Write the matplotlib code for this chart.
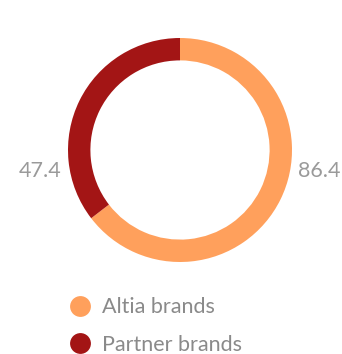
import matplotlib
matplotlib.use("Agg")
import matplotlib.pyplot as plt
from matplotlib.lines import Line2D

categories = ["Altia brands", "Partner brands"]
values = [86.4, 47.4]
colors = ["#FFA05C", "#A31515"]
label_text = ["86.4", "47.4"]

W, H = 342, 354
fig = plt.figure(figsize=(W/100, H/100), dpi=100)
plt.rcParams['font.family'] = ['Lato', 'DejaVu Sans']

r = 112
ax = fig.add_axes([(180-r)/W, 1-(150+r)/H, 2*r/W, 2*r/H])
ax.pie(values, colors=colors, startangle=90, counterclock=False,
       radius=1.0, wedgeprops=dict(width=0.2, edgecolor='none'))
ax.set_xlim(-1, 1); ax.set_ylim(-1, 1)
ax.set_aspect('equal')
ax.axis('off')

fig.text(319/W, 1-171/H, label_text[0], ha='center', va='center',
         fontsize=15.5, color='#9a9a9a')
fig.text(40/W, 1-171/H, label_text[1], ha='center', va='center',
         fontsize=15.5, color='#9a9a9a')

handles = [Line2D([0], [0], marker='o', linestyle='none', markersize=15,
                  markerfacecolor=c, markeredgecolor='none') for c in colors]
leg = fig.legend(handles, categories, loc='upper left',
                 bbox_to_anchor=(43/W, 1-278/H), frameon=False,
                 labelcolor='#8a8a8a', handletextpad=0.25, handlelength=1.6,
                 labelspacing=0.8, prop={'size': 15.5})
fig.savefig("out.png", dpi=100)
